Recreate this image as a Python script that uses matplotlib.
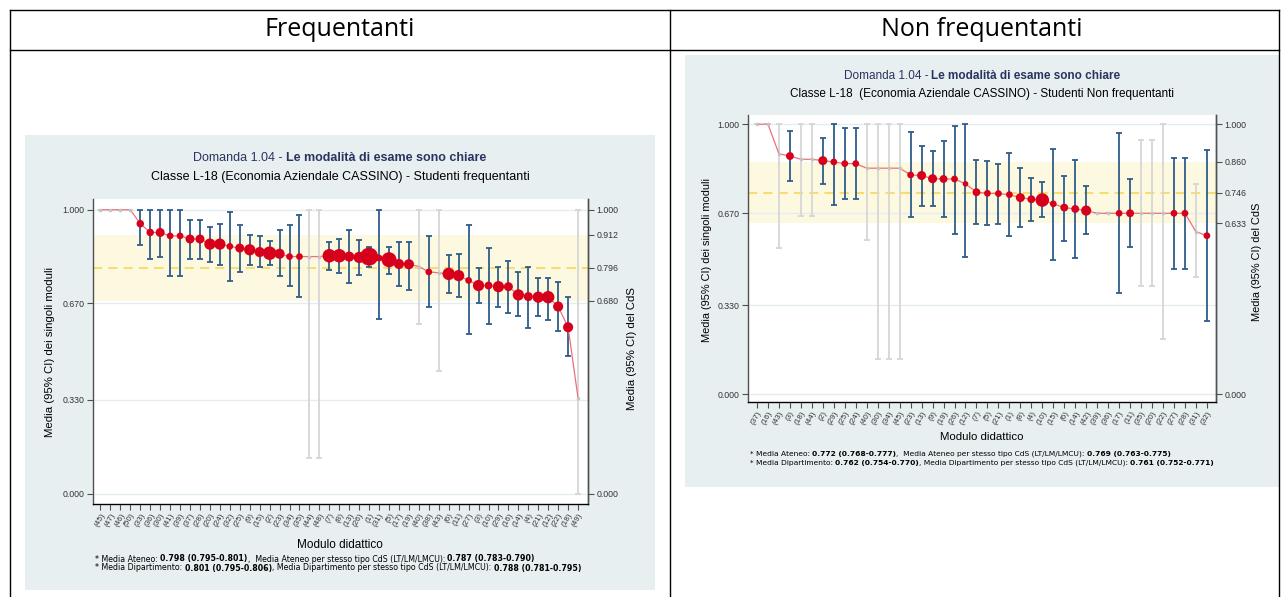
import numpy as np
import matplotlib
matplotlib.use("Agg")
import matplotlib.pyplot as plt
from matplotlib.offsetbox import TextArea, HPacker, AnnotationBbox

plt.rcParams["font.family"] = ["Liberation Sans", "DejaVu Sans"]

W, H = 1283, 597

# ---- Frequentanti ----
freq_modules = [45, 47, 46, 50, 33, 36, 30, 41, 39, 37, 28, 20, 24, 32, 25, 9, 15,
                2, 23, 34, 35, 44, 48, 7, 8, 13, 26, 1, 31, 5, 17, 19, 40, 38, 43,
                6, 11, 27, 3, 10, 29, 16, 14, 4, 21, 12, 22, 18, 49]
freq_mean = [1.000, 1.000, 1.000, 1.000, 0.951, 0.920, 0.920, 0.908, 0.908, 0.897,
             0.897, 0.879, 0.879, 0.871, 0.865, 0.859, 0.851, 0.847, 0.845, 0.835,
             0.835, 0.835, 0.835, 0.838, 0.838, 0.835, 0.832, 0.835, 0.830, 0.824,
             0.809, 0.808, 0.800, 0.781, 0.778, 0.774, 0.768, 0.751, 0.733, 0.733,
             0.729, 0.729, 0.700, 0.694, 0.692, 0.692, 0.659, 0.586, 0.336]
freq_lo = [1.000, 1.000, 1.000, 1.000, 0.877, 0.826, 0.834, 0.765, 0.765, 0.826,
           0.826, 0.816, 0.804, 0.750, 0.782, 0.806, 0.797, 0.804, 0.765, 0.730,
           0.692, 0.125, 0.125, 0.786, 0.777, 0.742, 0.771, 0.800, 0.615, 0.774,
           0.730, 0.718, 0.597, 0.657, 0.431, 0.708, 0.692, 0.563, 0.671, 0.598,
           0.657, 0.636, 0.626, 0.585, 0.626, 0.612, 0.573, 0.483, 0.000]
freq_hi = [1.000, 1.000, 1.000, 1.000, 1.000, 1.000, 1.000, 1.000, 1.000, 0.965,
           0.965, 0.939, 0.950, 0.992, 0.945, 0.912, 0.906, 0.891, 0.929, 0.945,
           0.980, 1.000, 1.000, 0.888, 0.897, 0.929, 0.894, 0.870, 1.000, 0.868,
           0.885, 0.888, 1.000, 0.906, 1.000, 0.841, 0.845, 0.945, 0.794, 0.865,
           0.800, 0.820, 0.779, 0.800, 0.759, 0.761, 0.747, 0.691, 1.000]
# 1 = module with enough answers (red/blue), 0 = too few (grey)
freq_valid = [0, 0, 0, 0, 1, 1, 1, 1, 1, 1, 1, 1, 1, 1, 1, 1, 1, 1, 1, 1, 1, 0, 0,
              1, 1, 1, 1, 1, 1, 1, 1, 1, 0, 1, 0, 1, 1, 1, 1, 1, 1, 1, 1, 1, 1, 1,
              1, 1, 0]
# number of answers, as bubble weight
freq_weight = [0, 0, 0, 0, 20, 20, 24, 18, 18, 24, 24, 30, 30, 18, 24, 30, 27, 36,
               27, 18, 18, 0, 0, 36, 36, 27, 30, 48, 18, 40, 27, 27, 0, 18, 0, 33,
               30, 18, 30, 21, 30, 24, 30, 24, 30, 33, 27, 27, 0]
freq_cds = [0.680, 0.796, 0.912]
freq_cds_labels = ["0.000", "0.680", "0.796", "0.912", "1.000"]
freq_notes = [
    [("* Media Ateneo: ", False), ("0.798 (0.795-0.801)", True),
     (",  Media Ateneo per stesso tipo CdS (LT/LM/LMCU): ", False),
     ("0.787 (0.783-0.790)", True)],
    [("* Media Dipartimento: ", False), ("0.801 (0.795-0.806)", True),
     (", Media Dipartimento per stesso tipo CdS (LT/LM/LMCU): ", False),
     ("0.788 (0.781-0.795)", True)],
]

# ---- Non frequentanti ----
nonf_modules = [37, 16, 43, 3, 18, 44, 2, 29, 25, 24, 40, 30, 34, 45, 23, 13, 9,
                19, 26, 12, 7, 5, 21, 1, 8, 4, 10, 15, 6, 14, 42, 39, 36, 17, 11,
                35, 20, 22, 27, 28, 31, 32]
nonf_mean = [1.000, 1.000, 0.890, 0.882, 0.870, 0.870, 0.865, 0.860, 0.854, 0.854,
             0.837, 0.837, 0.837, 0.837, 0.812, 0.810, 0.798, 0.797, 0.797, 0.779,
             0.748, 0.744, 0.743, 0.739, 0.728, 0.722, 0.719, 0.705, 0.691, 0.686,
             0.680, 0.670, 0.670, 0.670, 0.670, 0.670, 0.670, 0.670, 0.670, 0.670,
             0.602, 0.587]
nonf_lo = [1.000, 1.000, 0.543, 0.790, 0.661, 0.661, 0.780, 0.702, 0.724, 0.724,
           0.571, 0.129, 0.129, 0.129, 0.657, 0.698, 0.698, 0.657, 0.593, 0.509,
           0.629, 0.627, 0.629, 0.587, 0.618, 0.643, 0.655, 0.497, 0.568, 0.505,
           0.593, 0.670, 0.670, 0.373, 0.544, 0.400, 0.400, 0.203, 0.463, 0.463,
           0.435, 0.271]
nonf_hi = [1.000, 1.000, 1.000, 0.976, 1.000, 1.000, 0.949, 1.000, 0.984, 0.984,
           1.000, 1.000, 1.000, 1.000, 0.970, 0.920, 0.900, 0.936, 0.994, 1.000,
           0.868, 0.865, 0.852, 0.892, 0.837, 0.802, 0.784, 0.907, 0.809, 0.868,
           0.771, 0.670, 0.670, 0.967, 0.797, 0.942, 0.942, 1.000, 0.874, 0.874,
           0.779, 0.905]
nonf_valid = [0, 0, 0, 1, 0, 0, 1, 1, 1, 1, 0, 0, 0, 0, 1, 1, 1, 1, 1, 1, 1, 1, 1,
              1, 1, 1, 1, 1, 1, 1, 1, 0, 0, 1, 1, 0, 0, 0, 1, 1, 0, 1]
nonf_weight = [0, 0, 0, 21, 0, 0, 24, 18, 18, 18, 0, 0, 0, 0, 18, 24, 24, 21, 18,
               15, 21, 18, 18, 18, 24, 21, 36, 18, 21, 21, 27, 0, 0, 18, 21, 0, 0,
               0, 18, 18, 0, 18]
nonf_cds = [0.633, 0.746, 0.860]
nonf_cds_labels = ["0.000", "0.633", "0.746", "0.860", "1.000"]
nonf_notes = [
    [("* Media Ateneo: ", False), ("0.772 (0.768-0.777)", True),
     (",  Media Ateneo per stesso tipo CdS (LT/LM/LMCU): ", False),
     ("0.769 (0.763-0.775)", True)],
    [("* Media Dipartimento: ", False), ("0.762 (0.754-0.770)", True),
     (", Media Dipartimento per stesso tipo CdS (LT/LM/LMCU): ", False),
     ("0.761 (0.752-0.771)", True)],
]

title_parts = [("Domanda 1.04 - ", False), ("Le modalità di esame sono chiare", True)]

left_ticks = [0.0, 0.33, 0.67, 1.0]
left_tick_labels = ["0.000", "0.330", "0.670", "1.000"]

PANEL = "#e8eff1"
BAND = "#fdf8e0"
GOLD = "#f5d54a"
GRID = "#e2ecf1"
BLUE = "#2f5d89"
GREY_CI = "#d6d6d6"
GREY_PT = "#c4c4c4"
RED = "#d6001c"
PINK = "#ee6f7c"
SPINE = "#505050"
TXT = "#333333"
NAVY = "#2a3460"

fig = plt.figure(figsize=(W / 100, H / 100), dpi=100)


def px_axes(x0, y0, x1, y1, **kw):
    return fig.add_axes([x0 / W, 1 - y1 / H, (x1 - x0) / W, (y1 - y0) / H], **kw)


over = px_axes(0, 0, W, H, zorder=10)
over.set_xlim(0, W)
over.set_ylim(H, 0)
over.axis("off")
over.patch.set_alpha(0)

# table grid
for y in (10, 50):
    over.plot([10, 1279], [y, y], color="black", lw=1.0)
for x in (10, 670, 1279):
    over.plot([x, x], [10, H], color="black", lw=1.0)
over.text(340, 30, "Frequentanti", ha="center", va="center", fontsize=18,
          family=["Open Sans", "DejaVu Sans"])
over.text(982, 30, "Non frequentanti", ha="center", va="center", fontsize=18,
          family=["Open Sans", "DejaVu Sans"])


def rich_text(x, y, parts, size, color="black", center=False, family=None):
    # normal and bold runs on a shared baseline
    boxes = []
    for txt, bold in parts:
        props = dict(fontsize=size, color=color,
                     fontweight="bold" if bold else "normal")
        if family:
            props["family"] = family
        boxes.append(TextArea(txt, textprops=props))
    row = HPacker(children=boxes, align="baseline", pad=0, sep=0)
    ab = AnnotationBbox(row, (x, y), xycoords="data", frameon=False, pad=0,
                        box_alignment=(0.5 if center else 0.0, 0.5))
    over.add_artist(ab)


def draw_chart(ax, modules, mean, lo, hi, valid, weight, cds, cds_labels, xlim, ylim):
    x = np.arange(len(modules))
    mean, lo, hi = np.asarray(mean), np.asarray(lo), np.asarray(hi)
    valid = np.asarray(valid, bool)
    weight = np.asarray(weight, float)

    ax.axhspan(cds[0], cds[2], color=BAND, lw=0, zorder=0.5)
    ax.axhline(cds[1], color=GOLD, lw=1.1, ls=(0, (6, 4)), zorder=1)
    for ok, col in ((False, GREY_CI), (True, BLUE)):
        m = valid == ok
        ax.errorbar(x[m], mean[m], yerr=[mean[m] - lo[m], hi[m] - mean[m]],
                    fmt="none", ecolor=col, elinewidth=1.3, capsize=2.3,
                    capthick=1.3, zorder=2)
    ax.plot(x, mean, color=PINK, lw=0.9, zorder=3)
    ax.scatter(x[~valid], mean[~valid], s=7, color=GREY_PT, lw=0, zorder=4)
    ax.scatter(x[valid], mean[valid], s=(0.27 * weight[valid]) ** 2, color=RED,
               lw=0, zorder=5)

    ax.set_xlim(xlim)
    ax.set_ylim(ylim)
    ax.set_xticks(x)
    ax.set_xticklabels([f"({m})" for m in modules], rotation=60, ha="right",
                       rotation_mode="anchor", fontsize=5.9, color=TXT)
    ax.set_yticks(left_ticks)
    ax.set_yticklabels(left_tick_labels)
    ax.grid(axis="y", color=GRID, lw=1.0)
    ax.set_axisbelow(True)
    ax.spines["top"].set_visible(False)
    for s in ("left", "bottom", "right"):
        ax.spines[s].set_color(SPINE)
        ax.spines[s].set_linewidth(1.0)
    ax.tick_params(axis="y", length=4, width=0.8, color=SPINE, labelsize=6.3,
                   labelcolor=TXT, pad=2)
    ax.tick_params(axis="x", length=4, width=0.8, color=SPINE, pad=1.5)

    ax2 = ax.twinx()
    ax2.set_ylim(ylim)
    ax2.set_yticks([0.0] + cds + [1.0])
    ax2.set_yticklabels(cds_labels)
    ax2.spines["top"].set_visible(False)
    ax2.spines["left"].set_visible(False)
    ax2.spines["right"].set_color(SPINE)
    ax2.spines["right"].set_linewidth(1.0)
    ax2.tick_params(axis="y", length=4, width=0.8, color=SPINE, labelsize=6.3,
                    labelcolor=TXT, pad=2)


NOTE_FONT = ["DejaVu Sans"]

# ---- left chart ----
panel = px_axes(25, 135, 655, 590, zorder=1)
panel.set_facecolor(PANEL)
panel.set_xticks([]); panel.set_yticks([])
for s in panel.spines.values():
    s.set_visible(False)
ax = px_axes(93, 199, 588, 504, zorder=2)
draw_chart(ax, freq_modules, freq_mean, freq_lo, freq_hi, freq_valid, freq_weight,
           freq_cds, freq_cds_labels, (-0.75, 49.0), (-0.037, 1.038))

rich_text(340, 158, title_parts, 9, color=NAVY, center=True)
over.text(340, 177, "Classe L-18 (Economia Aziendale CASSINO) - Studenti frequentanti",
          ha="center", va="center", fontsize=9)
over.text(50, 352, "Media (95% CI) dei singoli moduli", rotation=90, ha="center",
          va="center", fontsize=8.2)
over.text(632, 348, "Media (95% CI) del CdS", rotation=90, ha="center", va="center",
          fontsize=8.2)
over.text(340, 545, "Modulo didattico", ha="center", va="center", fontsize=8.5)
rich_text(95, 559, freq_notes[0], 5.7, family=NOTE_FONT)
rich_text(95, 568, freq_notes[1], 5.7, family=NOTE_FONT)

# ---- right chart ----
panel = px_axes(685, 55, 1279, 487, zorder=1)
panel.set_facecolor(PANEL)
panel.set_xticks([]); panel.set_yticks([])
for s in panel.spines.values():
    s.set_visible(False)
ax = px_axes(748, 115, 1216, 402, zorder=2)
draw_chart(ax, nonf_modules, nonf_mean, nonf_lo, nonf_hi, nonf_valid, nonf_weight,
           nonf_cds, nonf_cds_labels, (-0.82, 41.83), (-0.029, 1.034))

rich_text(982, 76, title_parts, 8.5, color=NAVY, center=True)
over.text(982, 94, "Classe L-18  (Economia Aziendale CASSINO) - Studenti Non frequentanti",
          ha="center", va="center", fontsize=8.5)
over.text(707, 260, "Media (95% CI) dei singoli moduli", rotation=90, ha="center",
          va="center", fontsize=7.9)
over.text(1257, 262, "Media (95% CI) del CdS", rotation=90, ha="center", va="center",
          fontsize=7.9)
over.text(982, 437, "Modulo didattico", ha="center", va="center", fontsize=8.2)
rich_text(750, 454, nonf_notes[0], 5.4, family=NOTE_FONT)
rich_text(750, 463, nonf_notes[1], 5.4, family=NOTE_FONT)

fig.savefig("out.png", dpi=100)
